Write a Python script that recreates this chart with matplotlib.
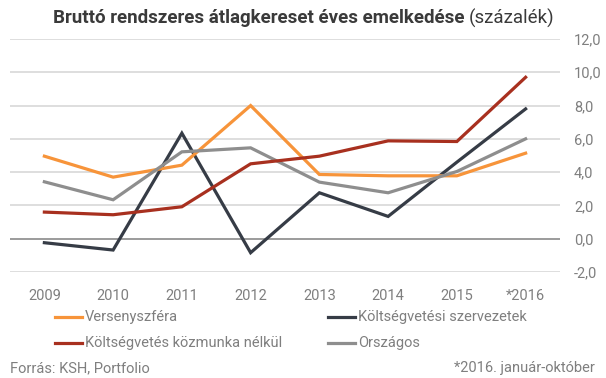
import matplotlib
matplotlib.use('Agg')
import matplotlib.pyplot as plt
from matplotlib.lines import Line2D

plt.rcParams['font.family'] = ['Roboto', 'DejaVu Sans']

# Data
years = ['2009', '2010', '2011', '2012', '2013', '2014', '2015', '*2016']
versenyszfera = [4.96, 3.70, 4.42, 8.0, 3.86, 3.78, 3.78, 5.14]
koltsegvetesi = [-0.24, -0.68, 6.34, -0.84, 2.76, 1.34, 4.6, 7.8]
kozmunka_nelkul = [1.6, 1.44, 1.92, 4.5, 4.96, 5.88, 5.84, 9.7]
orszagos = [3.42, 2.34, 5.22, 5.46, 3.4, 2.76, 4.04, 6.0]
y_ticks = [-2, 0, 2, 4, 6, 8, 10, 12]

series = [
    ('Versenyszféra', versenyszfera, '#F7943A'),
    ('Költségvetési szervezetek', koltsegvetesi, '#363C46'),
    ('Költségvetés közmunka nélkül', kozmunka_nelkul, '#A8301F'),
    ('Országos', orszagos, '#8E8E8E'),
]

W, H = 606, 378
fig = plt.figure(figsize=(W / 100, H / 100), dpi=100, facecolor='white')
ax = fig.add_axes([10 / W, 1 - 272 / H, 550 / W, 233 / H])

x = list(range(len(years)))
# draw in the order that gives the reference stacking
for idx in [1, 0, 3, 2]:
    name, vals, col = series[idx]
    ax.plot(x, vals, color=col, lw=2.3, solid_joinstyle='miter', zorder=3)

ax.set_xlim(-0.5, len(years) - 0.5)
ax.set_ylim(-2, 12)
ax.set_yticks(y_ticks)
ax.set_yticklabels([f'{v:.1f}'.replace('.', ',') for v in y_ticks])
ax.yaxis.tick_right()
ax.set_xticks(x)
ax.set_xticklabels(years)
ax.tick_params(axis='both', length=0, labelsize=10.5, labelcolor='#7F7F7F')
ax.tick_params(axis='y', pad=10)
ax.tick_params(axis='x', pad=12)
for s in ax.spines.values():
    s.set_visible(False)
for v in y_ticks:
    ax.axhline(v, color='#808080' if v == 0 else '#D4D4D4', lw=1.1, zorder=1)

# title: bold part followed by normal-weight unit
title = fig.text(53 / W, 1 - 18 / H, 'Bruttó rendszeres átlagkereset éves emelkedése',
                 fontsize=13.5, fontweight='bold', color='#3A3A3A', va='center', ha='left')
fig.canvas.draw()
title_box = title.get_window_extent(fig.canvas.get_renderer())
fig.text((title_box.x1 + 4) / W, 1 - 18 / H, '(százalék)', fontsize=13.5,
         color='#3A3A3A', va='center', ha='left')

# legend
leg_pos = [(55, 317), (328, 317), (55, 343), (328, 343)]
for (name, vals, col), (lx, ly) in zip(series, leg_pos):
    fig.add_artist(Line2D([lx / W, (lx + 27) / W], [1 - ly / H, 1 - ly / H],
                          color=col, lw=2.3, transform=fig.transFigure))
    fig.text((lx + 30) / W, 1 - ly / H, name, fontsize=10.5, color='#7F7F7F',
             va='center', ha='left')

fig.text(10 / W, 1 - 368 / H, 'Forrás: KSH, Portfolio', fontsize=10.5,
         color='#7F7F7F', va='center', ha='left')
fig.text(595 / W, 1 - 368 / H, '*2016. január-október', fontsize=10.5,
         color='#7F7F7F', va='center', ha='right')

fig.savefig('out.png', dpi=100, facecolor='white')
